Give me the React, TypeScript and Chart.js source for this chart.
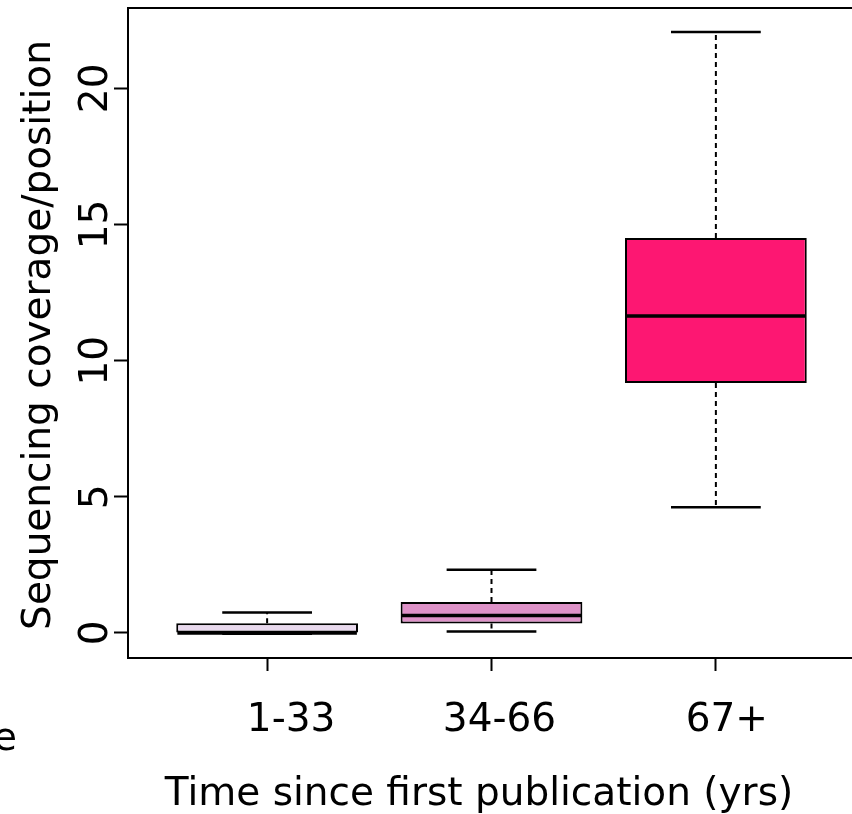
import React, { useEffect, useRef } from 'react';
import { Chart, registerables } from 'chart.js';

Chart.register(...registerables);

// ---- data ----
const categories = ['1-33', '34-66', '67+'];
const lowerWhisker = [-0.03, 0.05, 4.62];
const q1 = [0.0, 0.35, 9.18];
const median = [0.0, 0.64, 11.64];
const q3 = [0.36, 1.14, 14.5];
const upperWhisker = [0.75, 2.32, 22.07];
const yTickValues = [0, 5, 10, 15, 20];
const yTitle = 'Sequencing coverage/position';
const xTitle = 'Time since first publication (yrs)';
const strayText = 'e';

// ---- styling ----
const boxColors = ['#E9D9EE', '#DE92C8', '#FD1772'];
const xLabelNudge = [24, 8, 11];
const FONT = '39px "DejaVu Sans", "Liberation Sans", sans-serif';

export default function App() {
  const ref = useRef<HTMLCanvasElement | null>(null);

  useEffect(() => {
    const canvas = ref.current;
    if (!canvas) return;

    const boxData = categories.map((_, i) => ({ x: i + 1, y: [q1[i], q3[i]] }));

    const whiskerData: any[] = [];
    const capData: any[] = [];
    const medianData: any[] = [];
    categories.forEach((_, i) => {
      const c = i + 1;
      whiskerData.push({ x: c, y: q3[i] }, { x: c, y: upperWhisker[i] }, { x: c, y: null });
      whiskerData.push({ x: c, y: q1[i] }, { x: c, y: lowerWhisker[i] }, { x: c, y: null });
      capData.push({ x: c - 0.2, y: upperWhisker[i] }, { x: c + 0.2, y: upperWhisker[i] }, { x: c, y: null });
      capData.push({ x: c - 0.2, y: lowerWhisker[i] }, { x: c + 0.2, y: lowerWhisker[i] }, { x: c, y: null });
      medianData.push({ x: c - 0.4, y: median[i] }, { x: c + 0.4, y: median[i] }, { x: c, y: null });
    });

    const textPlugin = {
      id: 'boxplotText',
      afterDraw(chart: any) {
        const { ctx, chartArea, scales } = chart;
        const { left, right, top, bottom } = chartArea;
        ctx.save();
        // frame
        ctx.lineWidth = 2;
        ctx.strokeStyle = '#000';
        ctx.strokeRect(left, top, right - left, bottom - top);

        ctx.fillStyle = '#000';
        ctx.font = FONT;
        ctx.textBaseline = 'alphabetic';
        ctx.textAlign = 'center';

        // y tick labels (rotated)
        yTickValues.forEach((v) => {
          const y = scales.y.getPixelForValue(v);
          ctx.save();
          ctx.translate(left - 21, y);
          ctx.rotate(-Math.PI / 2);
          ctx.fillText(String(v), 0, 0);
          ctx.restore();
        });

        // y title
        ctx.save();
        ctx.translate(left - 78, (top + bottom) / 2 + 2);
        ctx.rotate(-Math.PI / 2);
        ctx.fillText(yTitle, 0, 0);
        ctx.restore();

        // x tick labels
        categories.forEach((c, i) => {
          const x = scales.x.getPixelForValue(i + 1) + xLabelNudge[i];
          ctx.fillText(c, x, bottom + 73);
        });

        // x title
        ctx.fillText(xTitle, 479, bottom + 147);

        // stray fragment at the left edge
        ctx.textAlign = 'right';
        ctx.fillText(strayText, 17, bottom + 92);
        ctx.restore();
      },
    };

    const chart = new Chart(canvas, {
      type: 'bar',
      data: {
        datasets: [
          {
            type: 'bar',
            data: boxData as any,
            backgroundColor: boxColors,
            borderColor: '#000',
            borderWidth: 2,
            borderSkipped: false,
            barPercentage: 0.9,
            categoryPercentage: 0.9,
            order: 1,
          } as any,
          {
            type: 'line',
            data: whiskerData,
            borderColor: '#000',
            borderWidth: 2,
            borderDash: [5, 4],
            pointRadius: 0,
            spanGaps: false,
            fill: false,
            order: 2,
          } as any,
          {
            type: 'line',
            data: capData,
            borderColor: '#000',
            borderWidth: 2.5,
            pointRadius: 0,
            spanGaps: false,
            fill: false,
            order: 2,
          } as any,
          {
            type: 'line',
            data: medianData,
            borderColor: '#000',
            borderWidth: 3.5,
            pointRadius: 0,
            spanGaps: false,
            fill: false,
            order: 0,
          } as any,
        ],
      },
      options: {
        responsive: false,
        animation: false,
        events: [],
        layout: { padding: { top: 8, right: 15, left: 0, bottom: 0 } },
        plugins: {
          legend: { display: false },
          tooltip: { enabled: false },
          title: { display: false },
        },
        scales: {
          x: {
            type: 'linear',
            min: 0.38,
            max: 3.62,
            offset: false,
            afterBuildTicks: (scale: any) => {
              scale.ticks = categories.map((_, i) => ({ value: i + 1 }));
            },
            afterFit: (scale: any) => {
              scale.height = 156;
            },
            ticks: { display: false },
            grid: {
              offset: false,
              drawOnChartArea: false,
              drawTicks: true,
              tickLength: 13,
              tickWidth: 2,
              tickColor: '#000',
              color: '#000',
            },
            border: { display: true, width: 2, color: '#000' },
          },
          y: {
            type: 'linear',
            min: -0.92,
            max: 22.95,
            afterBuildTicks: (scale: any) => {
              scale.ticks = yTickValues.map((v) => ({ value: v }));
            },
            afterFit: (scale: any) => {
              scale.width = 128;
            },
            ticks: { display: false },
            grid: {
              drawOnChartArea: false,
              drawTicks: true,
              tickLength: 14,
              tickWidth: 2,
              tickColor: '#000',
              color: '#000',
            },
            border: { display: true, width: 2, color: '#000' },
          },
        },
      } as any,
      plugins: [textPlugin],
    });

    return () => chart.destroy();
  }, []);

  return (
    <div
      style={{
        position: 'fixed',
        left: 0,
        top: 0,
        width: 852,
        height: 814,
        overflow: 'hidden',
        background: '#fff',
      }}
    >
      <canvas ref={ref} width={870} height={814} style={{ display: 'block', width: 870, height: 814 }} />
    </div>
  );
}
